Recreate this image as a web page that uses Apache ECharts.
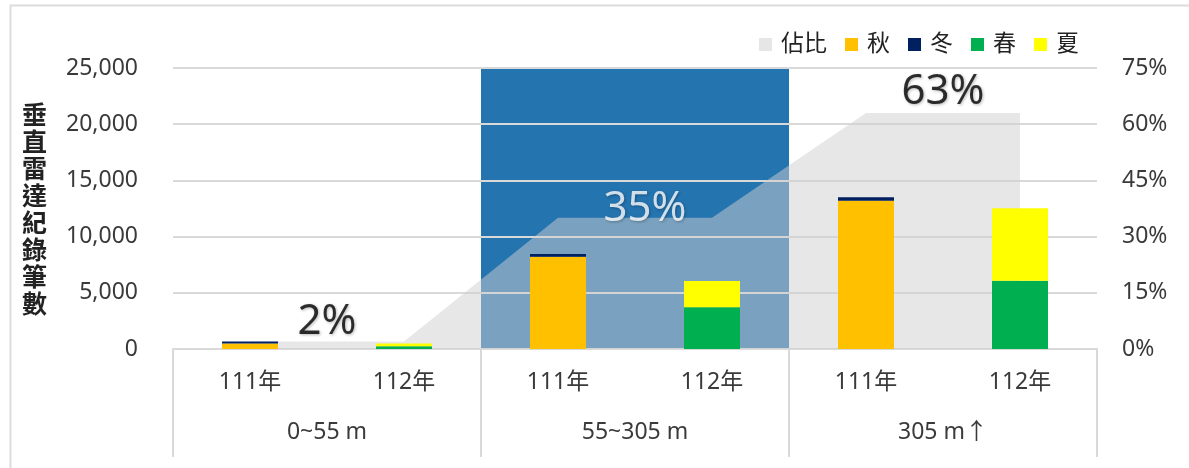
<!DOCTYPE html>
<html>
<head>
<meta charset="utf-8">
<script src="https://cdn.jsdelivr.net/npm/echarts@6/dist/echarts.min.js"></script>
<style>
  html, body { margin: 0; padding: 0; background: #fff; }
  #chart { width: 1189px; height: 468px; }
</style>
</head>
<body>
<div id="chart"></div>
<script>
// 数据
const years = ['111年', '112年', '111年', '112年', '111年', '112年']
const heights = ['0~55 m', '55~305 m', '305 m↑']
const ratio = [0.02, 0.02, 0.35, 0.35, 0.63, 0.63]      // 佔比(每个高度重复两次)
const ratioGroup = [0.02, 0.35, 0.63]                  // 每组的佔比标签
const autumn = [500, 0, 8210, 0, 13190, 0]   // 秋
const winter = [160, 0, 240, 0, 300, 0]      // 冬
const spring = [0, 250, 0, 3710, 0, 6080]    // 春
const summer = [0, 230, 0, 2340, 0, 6440]    // 夏
const highlight = [null, 25000, null]        // 中间高度的蓝色背景
const leftTicks = [0, 25000, 5000]           // min, max, interval
const rightTicks = [0, 0.75, 0.15]
const yName = '垂直雷達紀錄筆數'

const font = "'Noto Sans', 'Noto Sans CJK TC', sans-serif"
const txt = '#3a3a3a'
const gridColor = '#d9d9d9'

// 百分比标签的样式(颜色, 偏移)
const pctStyle = [
  { color: '#000', offset: [0, 2] },
  { color: '#fff', offset: [10, 12] },
  { color: '#000', offset: [0, 0] }
]

// 网格线的值, 在蓝色背景上补画
let gridValues = []
for (let v = leftTicks[0] + leftTicks[2]; v <= leftTicks[1]; v += leftTicks[2]) gridValues.push(v)

const myChart = echarts.init(document.getElementById('chart'), null, { renderer: 'canvas' })

const barSeries = (name, data, color) => ({
  name: name,
  type: 'bar',
  stack: 'season',
  xAxisIndex: 0,
  yAxisIndex: 0,
  barWidth: 56,
  z: 12,
  itemStyle: { color: color },
  data: data
})

const option = {
  animation: false,
  textStyle: { fontFamily: font },
  graphic: [{
    type: 'rect',
    left: 8, top: 3,
    shape: { width: 1400, height: 600 },
    style: { fill: 'none', stroke: '#dcdcdc', lineWidth: 2 },
    z: -10
  }],
  legend: {
    data: ['佔比', '秋', '冬', '春', '夏'],
    right: 105,
    top: 28,
    icon: 'rect',
    itemWidth: 13,
    itemHeight: 13,
    itemGap: 18,
    textStyle: { fontSize: 23, color: '#222', fontFamily: font, padding: [0, 0, 0, 4] }
  },
  grid: { left: 173, right: 92, top: 68, bottom: 119 },
  xAxis: [
    {
      type: 'category',
      data: years,
      position: 'bottom',
      z: 10,
      axisLine: { show: true, lineStyle: { color: gridColor, width: 2 } },
      axisTick: { show: false },
      axisLabel: { fontSize: 23, color: txt, margin: 22, fontFamily: font }
    },
    {
      type: 'category',
      data: heights,
      position: 'bottom',
      axisLine: { show: false },
      axisTick: { show: true, interval: 0, length: 108, lineStyle: { color: gridColor, width: 2 } },
      axisLabel: { fontSize: 23, color: txt, margin: 72, fontFamily: font }
    }
  ],
  yAxis: [
    {
      type: 'value',
      min: leftTicks[0], max: leftTicks[1], interval: leftTicks[2],
      z: 10,   // 网格线画在蓝色背景上面
      name: yName.split('').join('\n'),
      nameLocation: 'middle',
      nameRotate: 0,
      nameGap: 126,
      nameTextStyle: { fontSize: 25, lineHeight: 27, fontWeight: 'bold', color: '#222', fontFamily: "'Noto Sans CJK TC', sans-serif" },
      axisLine: { show: false },
      axisTick: { show: false },
      splitLine: { lineStyle: { color: gridColor, width: 2 } },
      axisLabel: {
        fontSize: 23, color: txt, margin: 35, fontFamily: font,
        formatter: v => v.toLocaleString('en-US')
      }
    },
    {
      type: 'value',
      min: rightTicks[0], max: rightTicks[1], interval: rightTicks[2],
      axisLine: { show: false },
      axisTick: { show: false },
      splitLine: { show: false },
      axisLabel: {
        fontSize: 23, color: txt, margin: 25, fontFamily: font,
        formatter: v => Math.round(v * 100) + '%'
      }
    }
  ],
  series: [
    {
      name: 'highlight',
      type: 'bar',
      xAxisIndex: 1,
      yAxisIndex: 0,
      barWidth: '100%',
      z: 1,
      itemStyle: { color: '#2474b0' },
      data: highlight,
      markLine: {
        z: 10,
        silent: true,
        symbol: 'none',
        label: { show: false },
        lineStyle: { color: gridColor, width: 2, type: 'solid', opacity: 1 },
        data: gridValues.map(v => ({ yAxis: v }))
      }
    },
    {
      name: '佔比',
      type: 'line',
      xAxisIndex: 0,
      yAxisIndex: 1,
      symbol: 'none',
      z: 11,
      itemStyle: { color: '#e6e6e6' },
      lineStyle: { width: 0 },
      areaStyle: { color: '#d0d0d0', opacity: 0.5 },
      data: ratio
    },
    barSeries('秋', autumn, '#ffc000'),
    barSeries('冬', winter, '#002060'),
    barSeries('春', spring, '#00b050'),
    barSeries('夏', summer, '#ffff00'),
    {
      name: 'pct',
      type: 'scatter',
      xAxisIndex: 1,
      yAxisIndex: 1,
      symbolSize: 0,
      z: 13,
      silent: true,
      data: ratioGroup.map((v, i) => ({
        value: v,
        label: {
          show: true,
          position: 'top',
          distance: 0,
          offset: pctStyle[i].offset,
          color: pctStyle[i].color,
          fontSize: 42,
          fontFamily: font,
          textShadowColor: 'rgba(0,0,0,0.35)',
          textShadowBlur: 3,
          textShadowOffsetX: 1,
          textShadowOffsetY: 1,
          formatter: p => Math.round(p.value * 100) + '%'
        }
      }))
    }
  ]
}

myChart.setOption(option)
window.addEventListener('resize', myChart.resize)
</script>
</body>
</html>
